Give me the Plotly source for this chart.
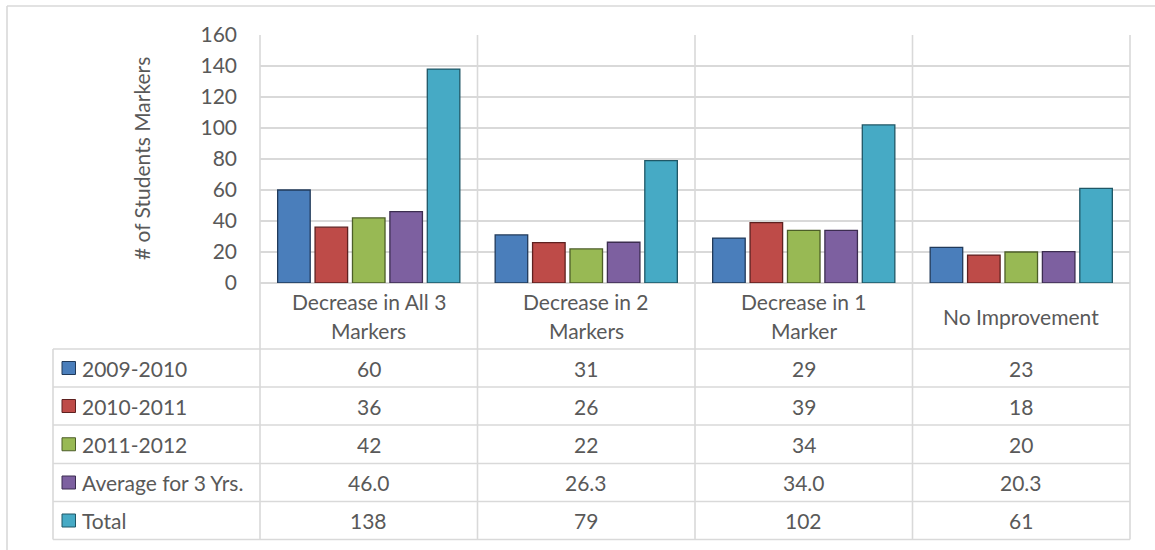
import plotly.graph_objects as go

# ---- data -------------------------------------------------------------
categories = [
    "Decrease in All 3<br>Markers",
    "Decrease in 2<br>Markers",
    "Decrease in 1<br>Marker",
    "No Improvement",
]
series_names = ["2009-2010", "2010-2011", "2011-2012", "Average for 3 Yrs.", "Total"]
y2009_2010 = [60, 31, 29, 23]
y2010_2011 = [36, 26, 39, 18]
y2011_2012 = [42, 22, 34, 20]
avg_3_yrs = [46.0, 26.3, 34.0, 20.3]
total = [138, 79, 102, 61]
y_tick_values = [0, 20, 40, 60, 80, 100, 120, 140, 160]
y_title = "# of Students Markers"

series_values = [y2009_2010, y2010_2011, y2011_2012, avg_3_yrs, total]
value_formats = ["{:.0f}", "{:.0f}", "{:.0f}", "{:.1f}", "{:.0f}"]

# ---- styling ----------------------------------------------------------
fills = ["#4a7ebb", "#be4b48", "#98b954", "#7d60a0", "#46aac5"]
edges = ["#213a5a", "#5e2120", "#4c5e28", "#3c2d50", "#1f5766"]
text_color = "#595959"
line_color = "#d9d9d9"
font_family = "Lato, 'Open Sans', sans-serif"
font_size = 21

W, H = 1155, 550
L, R, T, B = 260, 1130, 35, 283  # plot area in pixels


def px(x):
    return (x - L) / (R - L)


def py(y):
    return (B - y) / (B - T)


fig = go.Figure()
xs = list(range(len(categories)))
for name, vals, fc, ec in zip(series_names, series_values, fills, edges):
    fig.add_trace(
        go.Bar(
            x=xs,
            y=vals,
            name=name,
            marker=dict(color=fc, line=dict(color=ec, width=1.3)),
            hoverinfo="y+name",
        )
    )

shapes = []
line = dict(color=line_color, width=1.6)

# chart frame (left and top edges)
shapes.append(dict(type="line", xref="paper", yref="paper",
                   x0=px(7), x1=px(7), y0=py(H + 5), y1=py(6), line=line, layer="below"))
shapes.append(dict(type="line", xref="paper", yref="paper",
                   x0=px(7), x1=px(W + 5), y0=py(6), y1=py(6), line=line, layer="below"))

# data-table grid
col_edges = [260, 477.5, 695, 912.5, 1130]
row_edges = [349, 387, 425, 463.5, 501.5, 539.5]
for xe in col_edges:
    shapes.append(dict(type="line", xref="paper", yref="paper",
                       x0=px(xe), x1=px(xe), y0=py(T), y1=py(row_edges[-1]),
                       line=line, layer="below"))
shapes.append(dict(type="line", xref="paper", yref="paper",
                   x0=px(53), x1=px(53), y0=py(row_edges[0]), y1=py(row_edges[-1]),
                   line=line, layer="below"))
for ye in row_edges:
    shapes.append(dict(type="line", xref="paper", yref="paper",
                       x0=px(53), x1=px(R), y0=py(ye), y1=py(ye),
                       line=line, layer="below"))

annotations = []
font = dict(family=font_family, size=font_size, color=text_color)

# category labels (one annotation per text line)
label_mid = 316
line_step = 29
for i, cat in enumerate(categories):
    parts = cat.split("<br>")
    n = len(parts)
    for k, part in enumerate(parts):
        yc = label_mid + (k - (n - 1) / 2) * line_step
        annotations.append(dict(x=i, xref="x", y=py(yc), yref="paper", text=part,
                                showarrow=False, font=font, xanchor="center", yanchor="middle"))

# table rows: legend key, series name and values
for r, (name, vals, fmt, fc, ec) in enumerate(zip(series_names, series_values, value_formats, fills, edges)):
    yc = (row_edges[r] + row_edges[r + 1]) / 2
    shapes.append(dict(type="rect", xref="paper", yref="paper",
                       x0=px(62), x1=px(75.5), y0=py(yc - 6.5), y1=py(yc + 6.5),
                       fillcolor=fc, line=dict(color=ec, width=1)))
    annotations.append(dict(x=px(80), xref="paper", y=py(yc), yref="paper", text=name,
                            showarrow=False, font=font, xanchor="left", yanchor="middle"))
    for i, v in enumerate(vals):
        annotations.append(dict(x=i, xref="x", y=py(yc), yref="paper", text=fmt.format(v),
                                showarrow=False, font=font, xanchor="center", yanchor="middle"))

# y-axis title
annotations.append(dict(x=px(141), xref="paper", y=py((T + B) / 2), yref="paper", text=y_title,
                        textangle=-90, showarrow=False, font=font,
                        xanchor="center", yanchor="middle"))

fig.update_layout(
    width=W,
    height=H,
    margin=dict(l=L, r=W - R, t=T, b=H - B, pad=0),
    paper_bgcolor="white",
    plot_bgcolor="rgba(0,0,0,0)",
    barmode="group",
    bargap=0.14,
    bargroupgap=0.13,
    showlegend=False,
    font=font,
    xaxis=dict(range=[-0.5, len(categories) - 0.5], showticklabels=False, showgrid=False,
               zeroline=False, showline=False, fixedrange=True),
    yaxis=dict(range=[0, 160], tickvals=y_tick_values, showgrid=True, gridcolor=line_color,
               gridwidth=1.6, zeroline=True, zerolinecolor=line_color, zerolinewidth=1.6,
               showline=False, ticks="", ticklabelstandoff=22,
               tickfont=dict(family=font_family, size=font_size, color=text_color),
               fixedrange=True),
    shapes=shapes,
    annotations=annotations,
)

fig.write_html("out.html")
